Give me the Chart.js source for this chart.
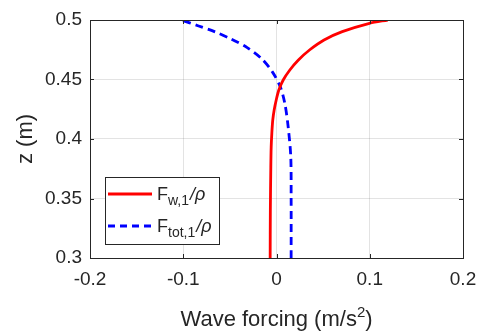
<!DOCTYPE html>
<html>
<head>
<meta charset="utf-8">
<script src="https://cdn.jsdelivr.net/npm/chart.js@4"></script>
<style>
  html, body { margin: 0; padding: 0; background: #fff; }
  #wrap { width: 477px; height: 333px; }
</style>
</head>
<body>
<div id="wrap"><canvas id="forceChart" width="477" height="333"></canvas></div>
<script>
// depth (m) and forcing values
const zW = [0.30, 0.34, 0.3765, 0.3933, 0.405, 0.416, 0.4244, 0.4328, 0.4412, 0.4496, 0.458, 0.4664, 0.4748, 0.4832, 0.4902, 0.4972, 0.50];
const fW = [-0.0068, -0.0066, -0.0061, -0.0057, -0.0050, -0.0040, -0.0025, -0.0003, 0.0025, 0.0072, 0.0143, 0.0235, 0.0354, 0.0510, 0.0705, 0.0997, 0.1193];

const zTot = [0.30, 0.35, 0.3851, 0.4103, 0.430, 0.444, 0.4566, 0.4678, 0.477, 0.484, 0.4902, 0.4952, 0.50];
const fTot = [0.0157, 0.0157, 0.0153, 0.0125, 0.0089, 0.0040, -0.0046, -0.0164, -0.0318, -0.0486, -0.0665, -0.0843, -0.1020];

const xTicks = [-0.2, -0.1, 0, 0.1, 0.2];
const yTicks = [0.3, 0.35, 0.4, 0.45, 0.5];

const axisColor = '#262626';
const gridColor = 'rgba(38,38,38,0.13)';
const FONT = '"Liberation Sans", Arial, sans-serif';

function pairs(xs, ys) {
  return xs.map((x, i) => ({ x: x, y: ys[i] }));
}

// box + inward ticks + axis titles like the original
const boxPlugin = {
  id: 'box',
  afterDatasetsDraw(chart) {
    const { ctx, chartArea: a, scales } = chart;
    ctx.save();
    ctx.strokeStyle = axisColor;
    ctx.lineWidth = 1;
    ctx.strokeRect(a.left + 0.5, a.top + 0.5, a.right - a.left, a.bottom - a.top);
    ctx.beginPath();
    xTicks.forEach(v => {
      const px = Math.round(scales.x.getPixelForValue(v)) + 0.5;
      ctx.moveTo(px, a.bottom); ctx.lineTo(px, a.bottom - 4);
      ctx.moveTo(px, a.top); ctx.lineTo(px, a.top + 4);
    });
    yTicks.forEach(v => {
      const py = Math.round(scales.y.getPixelForValue(v)) + 0.5;
      ctx.moveTo(a.left, py); ctx.lineTo(a.left + 4, py);
      ctx.moveTo(a.right, py); ctx.lineTo(a.right - 4, py);
    });
    ctx.stroke();

    // x title with superscript 2
    ctx.fillStyle = axisColor;
    ctx.textBaseline = 'alphabetic';
    const big = '22px ' + FONT, small = '15px ' + FONT;
    const parts = [['Wave forcing (m/s', big, 0], ['2', small, -9], [')', big, 0]];
    let total = 0;
    parts.forEach(p => { ctx.font = p[1]; total += ctx.measureText(p[0]).width; });
    let x = (a.left + a.right) / 2 - total / 2;
    parts.forEach(p => {
      ctx.font = p[1];
      ctx.fillText(p[0], x, 326 + p[2]);
      x += ctx.measureText(p[0]).width;
    });

    // y title
    ctx.save();
    ctx.translate(32, (a.top + a.bottom) / 2);
    ctx.rotate(-Math.PI / 2);
    ctx.font = big;
    ctx.textAlign = 'center';
    ctx.fillText('z (m)', 0, 0);
    ctx.restore();
    ctx.restore();
  }
};

// legend drawn inside the plot, lower left
const legendPlugin = {
  id: 'insideLegend',
  afterDraw(chart) {
    const { ctx } = chart;
    const bx = 105, by = 177, bw = 114, bh = 67;
    ctx.save();
    ctx.fillStyle = '#fff';
    ctx.fillRect(bx, by, bw, bh);
    ctx.strokeStyle = axisColor;
    ctx.lineWidth = 1;
    ctx.strokeRect(bx + 0.5, by + 0.5, bw, bh);

    const rows = [
      { sub: 'w,1', color: '#ff0000', dash: [], y: 194 },
      { sub: 'tot,1', color: '#0000ff', dash: [7, 5], y: 226 }
    ];
    rows.forEach(r => {
      ctx.strokeStyle = r.color;
      ctx.lineWidth = 2.8;
      ctx.setLineDash(r.dash);
      ctx.beginPath();
      ctx.moveTo(108, r.y);
      ctx.lineTo(152, r.y);
      ctx.stroke();
      ctx.setLineDash([]);

      ctx.fillStyle = axisColor;
      ctx.textBaseline = 'alphabetic';
      let x = 157;
      ctx.font = '18px ' + FONT;
      ctx.fillText('F', x, r.y + 6);
      x += ctx.measureText('F').width;
      ctx.font = '14px ' + FONT;
      ctx.fillText(r.sub, x, r.y + 11);
      x += ctx.measureText(r.sub).width + 1;
      ctx.font = 'italic 18px ' + FONT;
      ctx.fillText('/\u03c1', x, r.y + 6);
    });
    ctx.restore();
  }
};

new Chart(document.getElementById('forceChart').getContext('2d'), {
  type: 'scatter',
  data: {
    datasets: [
      {
        label: 'F_w,1/rho',
        data: pairs(fW, zW),
        showLine: true,
        borderColor: '#ff0000',
        borderWidth: 2.8,
        pointRadius: 0,
        tension: 0.3,
        fill: false
      },
      {
        label: 'F_tot,1/rho',
        data: pairs(fTot, zTot),
        showLine: true,
        borderColor: '#0000ff',
        borderWidth: 2.8,
        borderDash: [8, 5],
        pointRadius: 0,
        tension: 0.3,
        fill: false
      }
    ]
  },
  options: {
    responsive: false,
    animation: false,
    layout: { padding: { top: 20, right: 14, left: 0, bottom: 0 } },
    plugins: {
      legend: { display: false },
      tooltip: { enabled: false }
    },
    scales: {
      x: {
        type: 'linear',
        min: -0.2,
        max: 0.2,
        afterFit(scale) {
          scale.height = 75;
          scale.paddingLeft = 0;
          scale.paddingRight = 0;
        },
        afterBuildTicks(scale) { scale.ticks = xTicks.map(v => ({ value: v })); },
        grid: { color: gridColor, drawTicks: false },
        border: { display: false },
        ticks: {
          color: axisColor,
          padding: 10,
          maxRotation: 0,
          font: { family: FONT, size: 19 },
          callback: v => String(Math.round(v * 10) / 10)
        }
      },
      y: {
        type: 'linear',
        min: 0.3,
        max: 0.5,
        afterFit(scale) {
          scale.width = 90;
          scale.paddingTop = 0;
          scale.paddingBottom = 0;
        },
        afterBuildTicks(scale) { scale.ticks = yTicks.map(v => ({ value: v })); },
        grid: { color: gridColor, drawTicks: false },
        border: { display: false },
        ticks: {
          color: axisColor,
          padding: 8,
          font: { family: FONT, size: 19 },
          callback: v => String(Math.round(v * 100) / 100)
        }
      }
    }
  },
  plugins: [boxPlugin, legendPlugin]
});
</script>
</body>
</html>
